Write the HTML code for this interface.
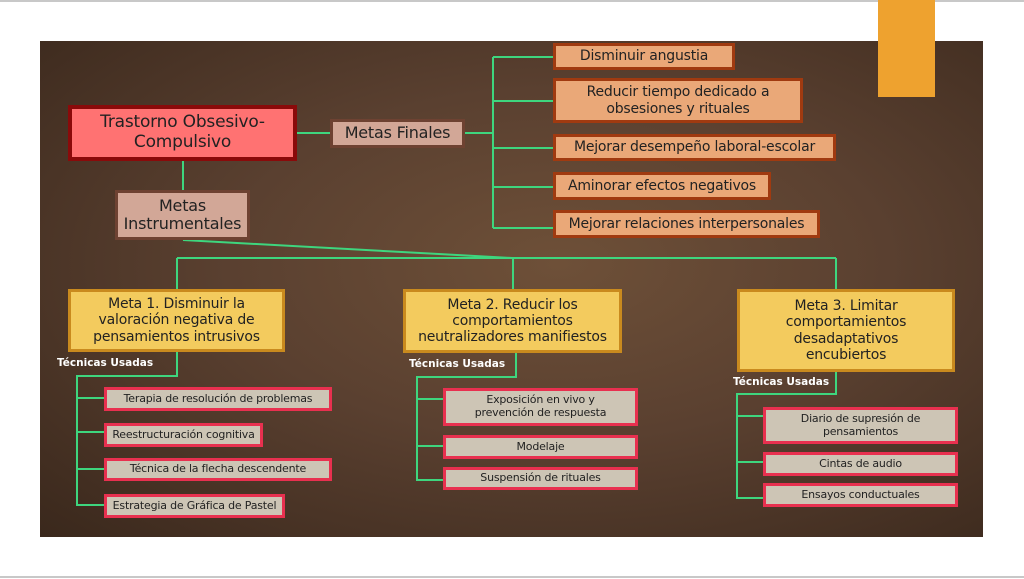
<!DOCTYPE html>
<html><head><meta charset="utf-8"><style>
*{margin:0;padding:0;box-sizing:border-box}
body{width:1024px;height:579px;background:#fff;position:relative;overflow:hidden;font-family:"DejaVu Sans","Liberation Sans",sans-serif}
.topline{position:absolute;left:0;top:0;width:1024px;height:2px;background:#c8c8c8}
.botline{position:absolute;left:0;top:576px;width:1024px;height:2px;background:#c8c8c8}
.panel{position:absolute;left:40px;top:41px;width:943px;height:496px;background:radial-gradient(ellipse at 55% 45%,#6e5038 0%,#5a4030 45%,#3a281c 100%)}
.orange{position:absolute;left:878px;top:0;width:57px;height:97px;background:#eea22f}
.b{position:absolute;display:flex;align-items:center;justify-content:center;text-align:center;color:#222;line-height:1.15;white-space:nowrap;letter-spacing:-0.2px}
.toc{background:#ff7272;border:4px solid #8a0a0a;font-size:17px}
.mf{background:#d2a797;border:3px solid #6e4232;font-size:16px}
.fin{background:#eaa878;border:3px solid #a03a10;font-size:14px}
.meta{background:#f3cb5e;border:3px solid #c98a1e;font-size:14px}
.tec{background:#cdc5b5;border:3px solid #e8304f;font-size:11px}
.lbl{position:absolute;color:#fff;font-size:10.5px;font-weight:bold}
svg{position:absolute;left:0;top:0}
</style></head><body>
<div class="topline"></div><div class="botline"></div>
<div class="panel"></div>
<div class="orange"></div>
<svg width="1024" height="579"><g stroke="#3ed67e" stroke-width="2" fill="none">
<line x1="297" y1="133" x2="330" y2="133"/>
<line x1="465" y1="133" x2="493" y2="133"/>
<line x1="493" y1="57" x2="493" y2="228"/>
<line x1="493" y1="57" x2="553" y2="57"/>
<line x1="493" y1="101" x2="553" y2="101"/>
<line x1="493" y1="148" x2="553" y2="148"/>
<line x1="493" y1="187" x2="553" y2="187"/>
<line x1="493" y1="228" x2="553" y2="228"/>
<line x1="183" y1="161" x2="183" y2="190"/>
<polyline points="183,240 512,258"/>
<line x1="177" y1="258" x2="836" y2="258"/>
<line x1="177" y1="258" x2="177" y2="289"/>
<line x1="513" y1="258" x2="513" y2="289"/>
<line x1="836" y1="258" x2="836" y2="289"/>
<polyline points="177,352 177,376 77,376 77,505 104,505"/>
<line x1="77" y1="398" x2="104" y2="398"/>
<line x1="77" y1="432" x2="104" y2="432"/>
<line x1="77" y1="469" x2="104" y2="469"/>
<polyline points="516,353 516,377 417,377 417,480 443,480"/>
<line x1="417" y1="399" x2="443" y2="399"/>
<line x1="417" y1="446" x2="443" y2="446"/>
<polyline points="836,372 836,394 737,394 737,498 763,498"/>
<line x1="737" y1="416" x2="763" y2="416"/>
<line x1="737" y1="462" x2="763" y2="462"/>
</g></svg>
<div class="b toc" style="left:68px;top:105px;width:229px;height:56px">Trastorno Obsesivo-<br>Compulsivo</div>
<div class="b mf" style="left:330px;top:119px;width:135px;height:29px">Metas Finales</div>
<div class="b mf" style="left:115px;top:190px;width:135px;height:50px">Metas<br>Instrumentales</div>
<div class="b fin" style="left:553px;top:43px;width:182px;height:27px">Disminuir angustia</div>
<div class="b fin" style="left:553px;top:78px;width:250px;height:45px">Reducir tiempo dedicado a<br>obsesiones y rituales</div>
<div class="b fin" style="left:553px;top:134px;width:283px;height:27px">Mejorar desempeño laboral-escolar</div>
<div class="b fin" style="left:553px;top:172px;width:218px;height:28px">Aminorar efectos negativos</div>
<div class="b fin" style="left:553px;top:210px;width:267px;height:28px">Mejorar relaciones interpersonales</div>
<div class="b meta" style="left:68px;top:289px;width:217px;height:63px">Meta 1. Disminuir la<br>valoración negativa de<br>pensamientos intrusivos</div>
<div class="b meta" style="left:403px;top:289px;width:219px;height:64px">Meta 2. Reducir los<br>comportamientos<br>neutralizadores manifiestos</div>
<div class="b meta" style="left:737px;top:289px;width:218px;height:83px">Meta 3. Limitar<br>comportamientos<br>desadaptativos<br>encubiertos</div>
<div class="lbl" style="left:57px;top:357px">Técnicas Usadas</div>
<div class="lbl" style="left:409px;top:358px">Técnicas Usadas</div>
<div class="lbl" style="left:733px;top:376px">Técnicas Usadas</div>
<div class="b tec" style="left:104px;top:387px;width:228px;height:24px">Terapia de resolución de problemas</div>
<div class="b tec" style="left:104px;top:423px;width:159px;height:24px">Reestructuración cognitiva</div>
<div class="b tec" style="left:104px;top:458px;width:228px;height:23px">Técnica de la flecha descendente</div>
<div class="b tec" style="left:104px;top:494px;width:181px;height:24px">Estrategia de Gráfica de Pastel</div>
<div class="b tec" style="left:443px;top:388px;width:195px;height:38px">Exposición en vivo y<br>prevención de respuesta</div>
<div class="b tec" style="left:443px;top:435px;width:195px;height:24px">Modelaje</div>
<div class="b tec" style="left:443px;top:467px;width:195px;height:23px">Suspensión de rituales</div>
<div class="b tec" style="left:763px;top:407px;width:195px;height:37px">Diario de supresión de<br>pensamientos</div>
<div class="b tec" style="left:763px;top:452px;width:195px;height:24px">Cintas de audio</div>
<div class="b tec" style="left:763px;top:483px;width:195px;height:24px">Ensayos conductuales</div>
</body></html>
